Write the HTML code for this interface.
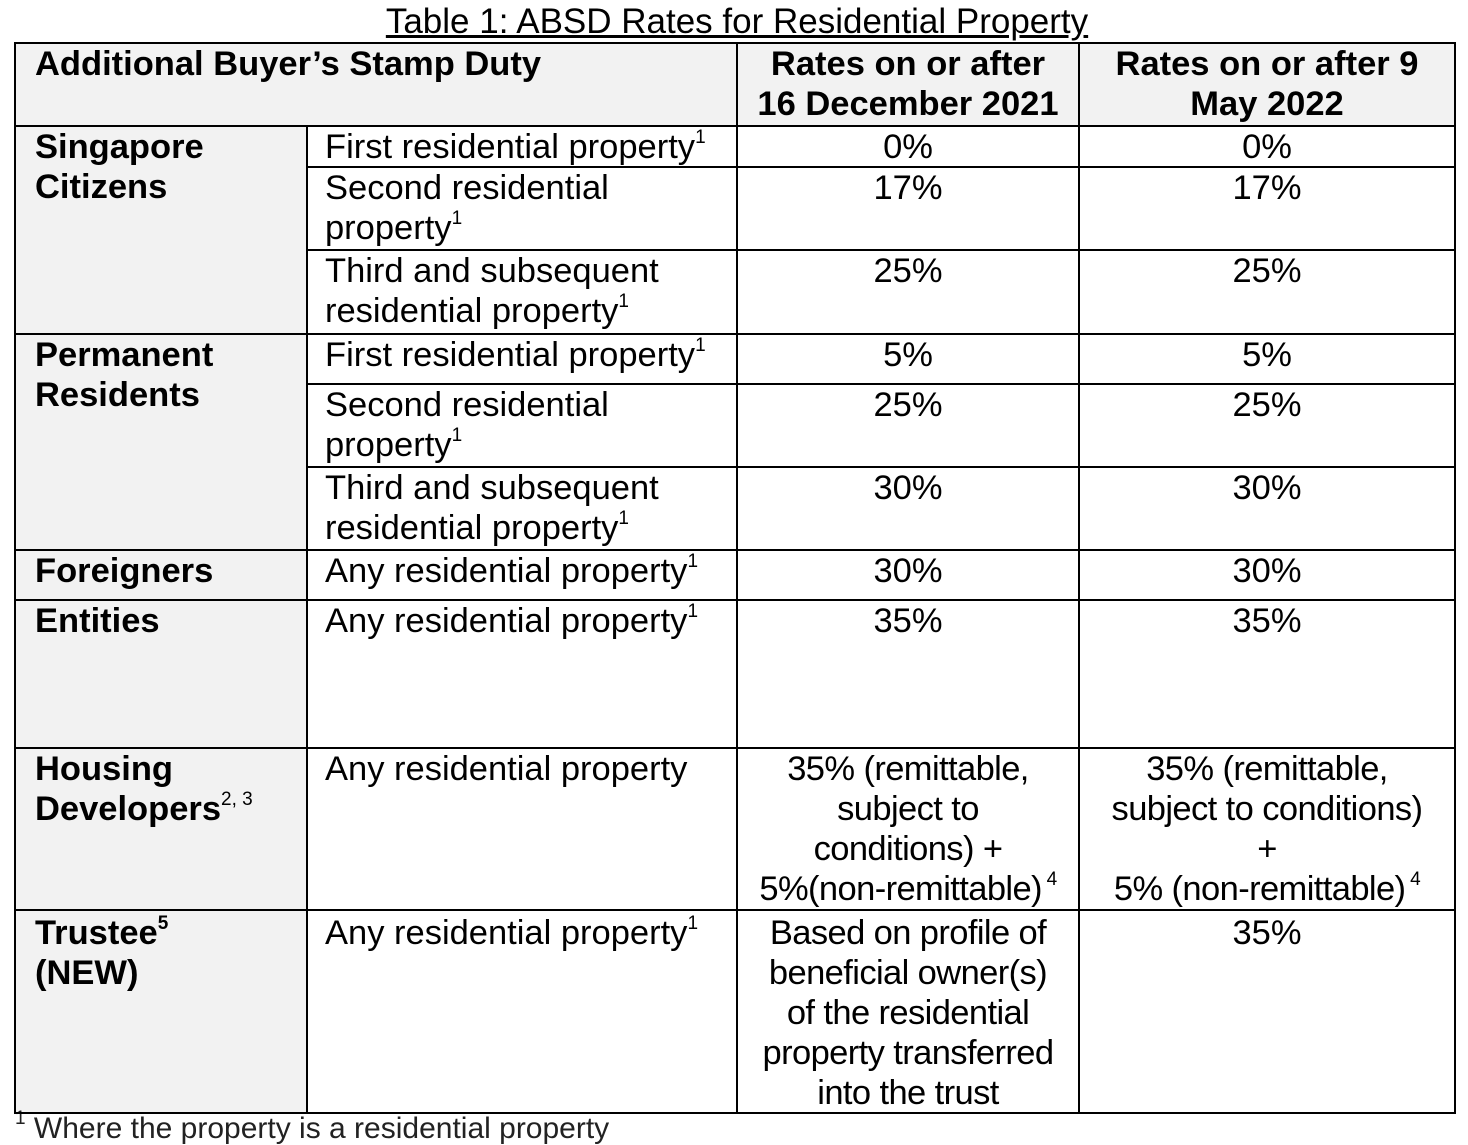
<!DOCTYPE html>
<html><head><meta charset="utf-8">
<style>
html,body{margin:0;padding:0;background:#fff;}
body{width:1468px;height:1124px;position:relative;overflow:hidden;font-family:"Liberation Sans",Arial,sans-serif;color:#000;font-size:34.5px;}
.g{position:absolute;background:#f2f2f2;}
.h{position:absolute;background:#000;height:2px;}
.v{position:absolute;background:#000;width:2px;}
.t{position:absolute;line-height:40px;white-space:nowrap;}
.b{font-weight:bold;}
.c{text-align:center;}
sup{font-size:19px;line-height:0;position:relative;top:-3px;vertical-align:super;}
.n{letter-spacing:-0.6px;}
</style></head><body>
<div class="t c" style="left:0;width:1474px;top:2px;text-decoration:underline;font-size:35px;">Table 1: ABSD Rates for Residential Property</div>

<div class="g" style="left:15px;top:43px;width:1440px;height:83px;"></div>
<div class="g" style="left:15px;top:126px;width:292px;height:987px;"></div>

<div class="t" style="left:15px;top:1114px;line-height:30px;font-size:30px;color:#222;"><sup>1</sup> Where the property is a residential property</div>

<div class="h" style="left:14px;width:1442px;top:42px;"></div>
<div class="h" style="left:14px;width:1442px;top:125px;"></div>
<div class="h" style="left:307px;width:1149px;top:166px;"></div>
<div class="h" style="left:307px;width:1149px;top:249px;"></div>
<div class="h" style="left:14px;width:1442px;top:333px;"></div>
<div class="h" style="left:307px;width:1149px;top:383px;"></div>
<div class="h" style="left:307px;width:1149px;top:466px;"></div>
<div class="h" style="left:14px;width:1442px;top:549px;"></div>
<div class="h" style="left:14px;width:1442px;top:599px;"></div>
<div class="h" style="left:14px;width:1442px;top:747px;"></div>
<div class="h" style="left:14px;width:1442px;top:909px;"></div>
<div class="h" style="left:14px;width:1442px;top:1112px;"></div>
<div class="v" style="left:14px;top:42px;height:1072px;"></div>
<div class="v" style="left:306px;top:125px;height:989px;"></div>
<div class="v" style="left:736px;top:42px;height:1072px;"></div>
<div class="v" style="left:1078px;top:42px;height:1072px;"></div>
<div class="v" style="left:1454px;top:42px;height:1072px;"></div>

<div class="t b" style="left:35px;top:44px;">Additional Buyer’s Stamp Duty</div>
<div class="t b c" style="left:737px;width:342px;top:44px;">Rates on or after<br>16 December 2021</div>
<div class="t b c" style="left:1079px;width:376px;top:44px;">Rates on or after 9<br>May 2022</div>

<div class="t b" style="left:35px;top:127px;">Singapore<br>Citizens</div>
<div class="t b" style="left:35px;top:335px;">Permanent<br>Residents</div>
<div class="t b" style="left:35px;top:551px;">Foreigners</div>
<div class="t b" style="left:35px;top:601px;">Entities</div>
<div class="t b" style="left:35px;top:749px;">Housing<br>Developers<sup style="font-weight:normal">2, 3</sup></div>
<div class="t b" style="left:35px;top:913px;">Trustee<sup>5</sup><br>(NEW)</div>

<div class="t" style="left:325px;top:127px;">First residential property<sup>1</sup></div>
<div class="t" style="left:325px;top:168px;">Second residential<br>property<sup>1</sup></div>
<div class="t" style="left:325px;top:251px;">Third and subsequent<br>residential property<sup>1</sup></div>
<div class="t" style="left:325px;top:335px;">First residential property<sup>1</sup></div>
<div class="t" style="left:325px;top:385px;">Second residential<br>property<sup>1</sup></div>
<div class="t" style="left:325px;top:468px;">Third and subsequent<br>residential property<sup>1</sup></div>
<div class="t" style="left:325px;top:551px;">Any residential property<sup>1</sup></div>
<div class="t" style="left:325px;top:601px;">Any residential property<sup>1</sup></div>
<div class="t" style="left:325px;top:749px;">Any residential property</div>
<div class="t" style="left:325px;top:913px;">Any residential property<sup>1</sup></div>

<div class="t c" style="left:737px;width:342px;top:127px;">0%</div>
<div class="t c" style="left:737px;width:342px;top:168px;">17%</div>
<div class="t c" style="left:737px;width:342px;top:251px;">25%</div>
<div class="t c" style="left:737px;width:342px;top:335px;">5%</div>
<div class="t c" style="left:737px;width:342px;top:385px;">25%</div>
<div class="t c" style="left:737px;width:342px;top:468px;">30%</div>
<div class="t c" style="left:737px;width:342px;top:551px;">30%</div>
<div class="t c" style="left:737px;width:342px;top:601px;">35%</div>
<div class="t c n" style="left:737px;width:342px;top:749px;">35% (remittable,<br>subject to<br>conditions) +<br>5%(non-remittable)<sup> 4</sup></div>
<div class="t c n" style="left:737px;width:342px;top:913px;">Based on profile of<br>beneficial owner(s)<br>of the residential<br>property transferred<br>into the trust</div>

<div class="t c" style="left:1079px;width:376px;top:127px;">0%</div>
<div class="t c" style="left:1079px;width:376px;top:168px;">17%</div>
<div class="t c" style="left:1079px;width:376px;top:251px;">25%</div>
<div class="t c" style="left:1079px;width:376px;top:335px;">5%</div>
<div class="t c" style="left:1079px;width:376px;top:385px;">25%</div>
<div class="t c" style="left:1079px;width:376px;top:468px;">30%</div>
<div class="t c" style="left:1079px;width:376px;top:551px;">30%</div>
<div class="t c" style="left:1079px;width:376px;top:601px;">35%</div>
<div class="t c n" style="left:1079px;width:376px;top:749px;">35% (remittable,<br>subject to conditions)<br>+<br>5% (non-remittable)<sup> 4</sup></div>
<div class="t c" style="left:1079px;width:376px;top:913px;">35%</div>
</body></html>
